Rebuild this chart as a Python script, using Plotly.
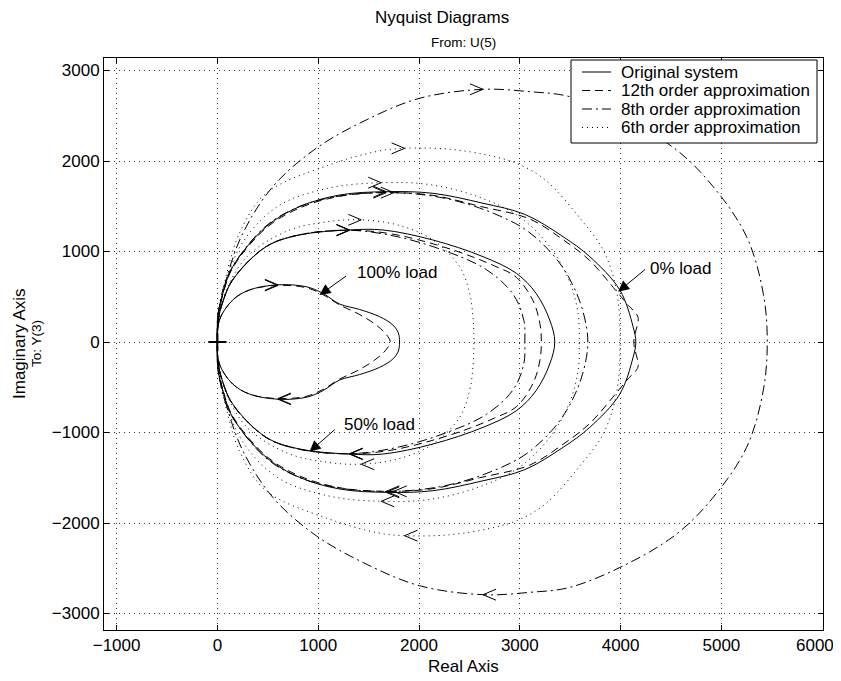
import plotly.graph_objects as go
import numpy as np

# ---- data: upper half (negative-frequency branch) of each Nyquist curve; lower half is its mirror ----
orig_0_x = [0, 5, 55, 152, 484, 814, 1212, 1675, 2138, 2635, 3050, 3429, 3694, 3992, 4124, 4151]
orig_0_y = [0, 300, 540, 832, 1274, 1495, 1624, 1661, 1643, 1533, 1410, 1164, 943, 575, 169, 0]
orig_50_x = [0, 5, 50, 152, 484, 814, 1311, 1642, 2138, 2635, 2966, 3160, 3297, 3347]
orig_50_y = [0, 220, 430, 685, 1053, 1182, 1238, 1238, 1127, 943, 759, 540, 243, 0]
orig_100_x = [0, 20, 152, 318, 600, 881, 1046, 1212, 1410, 1609, 1741, 1795, 1807]
orig_100_y = [0, 243, 464, 575, 632, 611, 538, 420, 360, 280, 188, 100, 0]

o12_0_x = [0, 5, 55, 152, 484, 814, 1212, 1675, 2138, 2602, 3098, 3429, 3694, 3960, 4080, 4150, 4175, 4131]
o12_0_y = [0, 300, 530, 820, 1260, 1480, 1610, 1650, 1620, 1500, 1360, 1130, 900, 560, 400, 320, 260, 0]
o12_50_x = [0, 5, 50, 152, 484, 814, 1311, 1750, 2337, 2750, 2966, 3131, 3200, 3214]
o12_50_y = [0, 220, 430, 690, 1055, 1185, 1235, 1190, 1017, 840, 715, 457, 200, 0]
o12_100_x = [0, 20, 152, 318, 600, 881, 1046, 1212, 1400, 1560, 1670, 1715]
o12_100_y = [0, 243, 464, 575, 625, 600, 525, 410, 310, 200, 90, 0]

o8_0_x = [0, 10, 60, 160, 480, 820, 1250, 1750, 2200, 2602, 3032, 3300, 3463, 3595, 3661, 3675]
o8_0_y = [0, 300, 600, 850, 1280, 1500, 1620, 1650, 1600, 1480, 1260, 1000, 759, 450, 169, 0]
o8_50_x = [0, 5, 50, 152, 484, 814, 1311, 1800, 2300, 2668, 2932, 3040, 3050]
o8_50_y = [0, 220, 430, 690, 1055, 1185, 1235, 1160, 990, 800, 530, 240, 0]
o8_100_x = [0, 30, 103, 252, 549, 980, 1476, 2006, 2635, 3098, 3496, 4050, 4555, 4919, 5250, 5415, 5455]
o8_100_y = [0, 400, 751, 1201, 1716, 2140, 2453, 2693, 2792, 2766, 2711, 2460, 2122, 1716, 1164, 538, 0]

o6_0_x = [0, 10, 80, 250, 600, 1100, 1625, 2100, 2600, 3000, 3300, 3500, 3580, 3590]
o6_0_y = [0, 300, 650, 1100, 1500, 1700, 1760, 1740, 1600, 1380, 1050, 650, 300, 0]
o6_50_x = [0, 10, 100, 300, 700, 1100, 1427, 1800, 2138, 2403, 2502, 2535, 2545]
o6_50_y = [0, 250, 600, 950, 1230, 1330, 1350, 1290, 1127, 832, 538, 280, 0]
o6_100_x = [0, 10, 60, 218, 484, 1093, 1600, 1857, 2300, 2700, 3000, 3264, 3595, 3830, 3960, 3995]
o6_100_y = [0, 300, 600, 1201, 1643, 1950, 2110, 2140, 2130, 2060, 1960, 1780, 1370, 1010, 560, 0]

series_names = ["Original system", "12th order approximation", "8th order approximation", "6th order approximation"]

# load labels: text position, arrow tail, arrow tip
load_labels = ["100% load", "50% load", "0% load"]
label_x = [1370, 1238, 4267]
label_y = [773, -906, 814]
tail_x = [1291, 1179, 4257]
tail_y = [740, -954, 814]
tip_x = [1013, 914, 3975]
tip_y = [519, -1212, 556]

x_ticks = [-1000, 0, 1000, 2000, 3000, 4000, 5000, 6000]
y_ticks = [-3000, -2000, -1000, 0, 1000, 2000, 3000]

# ---- styling / layout ----
XR = [-1125, 6008]
YR = [-3182, 3138]
OFF = 8                      # default page margin of the html body
PL, PR, PT, PB = 104, 823, 58, 630   # plot box in window pixels
W, H = 841 - OFF, 681 - OFF
pw, ph = PR - PL, PB - PT
ML, MT = PL - OFF, PT - OFF
MR, MB = W - ML - pw, H - MT - ph
sx = pw / (XR[1] - XR[0])
sy = ph / (YR[1] - YR[0])


def xp(px):
    return (px - PL) / pw


def yp(py):
    return (PB - py) / ph


def fmt(v):
    return ("\u2212" if v < 0 else "") + str(abs(v))


FONT = "Liberation Sans, Arial, Helvetica, sans-serif"
dashes = ["solid", "8px,5px", "10px,4px,2px,4px", "1px,4px"]

groups = [
    [(orig_0_x, orig_0_y), (orig_50_x, orig_50_y), (orig_100_x, orig_100_y)],
    [(o12_0_x, o12_0_y), (o12_50_x, o12_50_y), (o12_100_x, o12_100_y)],
    [(o8_0_x, o8_0_y), (o8_50_x, o8_50_y), (o8_100_x, o8_100_y)],
    [(o6_0_x, o6_0_y), (o6_50_x, o6_50_y), (o6_100_x, o6_100_y)],
]

fig = go.Figure()

chev_x, chev_y = [], []
for gi, grp in enumerate(groups):
    for ci, (ux, uy) in enumerate(grp):
        xs = list(ux) + list(ux[::-1][1:])
        ys = list(uy) + [-v for v in uy[::-1][1:]]
        fig.add_trace(go.Scatter(
            x=xs, y=ys, mode="lines",
            line=dict(color="black", width=1, dash=dashes[gi], shape="spline", smoothing=1.0),
            name=series_names[gi], legendgroup=series_names[gi],
            showlegend=False, hoverinfo="skip"))
        # direction chevrons at the extreme of each branch
        k = int(np.argmax(uy))
        tx, ty = ux[k], uy[k]
        Lp, hp = 13, 5.5
        for sgn in (1, -1):
            bx = tx - sgn * Lp / sx
            chev_x += [bx, tx, bx, None]
            chev_y += [sgn * ty + hp / sy, sgn * ty, sgn * ty - hp / sy, None]

fig.add_trace(go.Scatter(x=chev_x, y=chev_y, mode="lines",
                         line=dict(color="black", width=1), showlegend=False, hoverinfo="skip"))
fig.add_trace(go.Scatter(x=[0], y=[0], mode="markers",
                         marker=dict(symbol="cross-thin", size=13, line=dict(color="black", width=2)),
                         showlegend=False, hoverinfo="skip"))

ann = []
for i, t in enumerate(load_labels):
    ann.append(dict(x=tip_x[i], y=tip_y[i], ax=tail_x[i], ay=tail_y[i], xref="x", yref="y",
                    axref="x", ayref="y", text="", showarrow=True, arrowhead=2, arrowsize=2.2,
                    arrowwidth=1, arrowcolor="black", standoff=0))
    ann.append(dict(x=label_x[i], y=label_y[i], xref="x", yref="y", text=t, showarrow=False,
                    xanchor="left", yanchor="middle", font=dict(size=17, color="black", family=FONT)))

ann.append(dict(x=xp(442), y=yp(17), xref="paper", yref="paper", text="Nyquist Diagrams",
                showarrow=False, xanchor="center", yanchor="middle", borderpad=0,
                font=dict(size=17, color="black", family=FONT)))
ann.append(dict(x=0.5, y=yp(43), xref="paper", yref="paper", text="From: U(5)",
                showarrow=False, xanchor="center", yanchor="middle",
                font=dict(size=13.5, color="black", family=FONT)))
ann.append(dict(x=xp(19), y=0.5, xref="paper", yref="paper", text="Imaginary Axis",
                showarrow=False, textangle=-90, xanchor="center", yanchor="middle",
                font=dict(size=17, color="black", family=FONT)))
ann.append(dict(x=xp(36), y=0.5, xref="paper", yref="paper", text="To: Y(3)",
                showarrow=False, textangle=-90, xanchor="center", yanchor="middle",
                font=dict(size=13.5, color="black", family=FONT)))
ann.append(dict(x=0.5, y=yp(667), xref="paper", yref="paper", text="Real Axis",
                showarrow=False, xanchor="center", yanchor="middle",
                font=dict(size=17, color="black", family=FONT)))
# last x tick label sits at the window edge: placed right-aligned so it stays inside the page
ann.append(dict(x=xp(835), y=yp(645), xref="paper", yref="paper", text=fmt(x_ticks[-1]),
                showarrow=False, xanchor="right", yanchor="middle", borderpad=0,
                font=dict(size=17, color="black", family=FONT)))

# legend box drawn as shapes + text
shapes = [dict(type="rect", xref="paper", yref="paper", x0=xp(571), x1=xp(817), y0=yp(143), y1=yp(60),
               line=dict(color="black", width=1), fillcolor="white", layer="above")]
rows = [72, 90.5, 109, 127.5]
for i, nm in enumerate(series_names):
    shapes.append(dict(type="line", xref="paper", yref="paper", x0=xp(582), x1=xp(611),
                       y0=yp(rows[i]), y1=yp(rows[i]), layer="above",
                       line=dict(color="black", width=1, dash=dashes[i])))
    ann.append(dict(x=xp(619), y=yp(rows[i]), xref="paper", yref="paper", text=nm, showarrow=False,
                    xanchor="left", yanchor="middle", font=dict(size=17, color="black", family=FONT)))

axis_common = dict(showline=True, linecolor="black", linewidth=1, mirror="ticks",
                   ticks="inside", ticklen=5, tickcolor="black", tickwidth=1,
                   showgrid=True, gridcolor="#333", gridwidth=1, griddash="1px,4px",
                   zeroline=False, tickfont=dict(size=17, color="black", family=FONT))

fig.update_layout(
    width=W, height=H, margin=dict(l=ML, r=MR, t=MT, b=MB, pad=0),
    paper_bgcolor="white", plot_bgcolor="white",
    font=dict(family=FONT, color="black", size=17),
    xaxis=dict(range=XR, tickvals=x_ticks,
               ticktext=[fmt(v) if v != x_ticks[-1] else "" for v in x_ticks], **axis_common),
    yaxis=dict(range=YR, tickvals=y_ticks, ticktext=[fmt(v) for v in y_ticks], **axis_common),
    annotations=ann, shapes=shapes, showlegend=False, hovermode=False,
)

fig.write_html("out.html")
